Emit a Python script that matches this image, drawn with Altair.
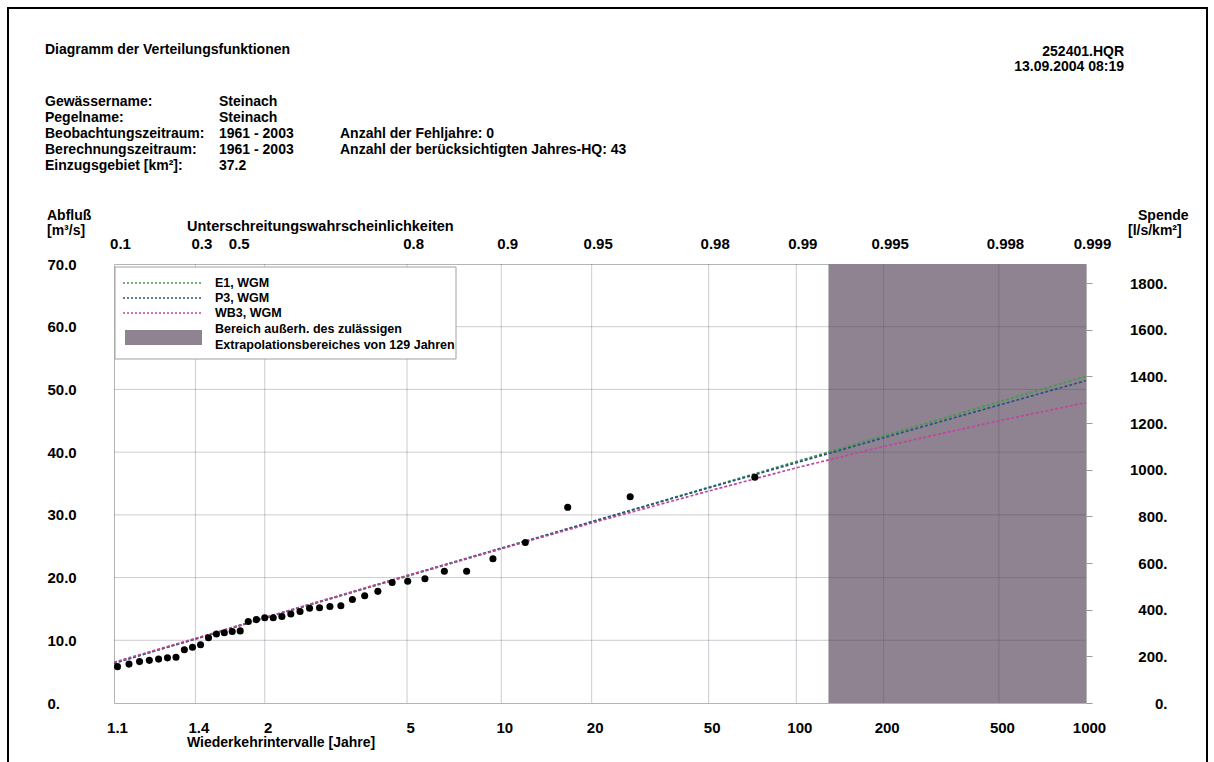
import math
import json
import altair as alt
import pandas as pd

# ---------------- data ----------------
AREA_KM2 = 37.2          # Einzugsgebiet
Q_MAX = 70.0
EXTRAP_YEARS = 129

prob_ticks = [0.1, 0.3, 0.5, 0.8, 0.9, 0.95, 0.98, 0.99, 0.995, 0.998, 0.999]
prob_labels = ["0.1", "0.3", "0.5", "0.8", "0.9", "0.95", "0.98", "0.99", "0.995", "0.998", "0.999"]
return_labels = ["1.1", "1.4", "2", "5", "10", "20", "50", "100", "200", "500", "1000"]

q_ticks = [0, 10, 20, 30, 40, 50, 60, 70]
q_labels = ["0.", "10.0", "20.0", "30.0", "40.0", "50.0", "60.0", "70.0"]
spende_ticks = [0, 200, 400, 600, 800, 1000, 1200, 1400, 1600, 1800]
spende_labels = ["0.", "200.", "400.", "600.", "800.", "1000.", "1200.", "1400.", "1600.", "1800."]

# observed annual maxima (visible part), non-exceedance probability and discharge
obs_p = [0.10648, 0.12963, 0.15278, 0.17593, 0.19907, 0.22222, 0.24537, 0.26852,
         0.29167, 0.31481, 0.33796, 0.36111, 0.38426, 0.40741, 0.43056, 0.45370,
         0.47685, 0.50000, 0.52315, 0.54630, 0.56944, 0.59259, 0.61574, 0.63889,
         0.66204, 0.68519, 0.70833, 0.73148, 0.75463, 0.77778, 0.80093, 0.82407,
         0.84722, 0.87037, 0.89352, 0.91667, 0.93981, 0.96296, 0.98611]
obs_q = [5.8, 6.2, 6.6, 6.8, 7.0, 7.2, 7.3, 8.5,
         8.9, 9.3, 10.4, 11.0, 11.2, 11.4, 11.5, 13.0,
         13.3, 13.6, 13.6, 13.8, 14.2, 14.6, 15.1, 15.2,
         15.4, 15.5, 16.5, 17.1, 17.8, 19.2, 19.4, 19.8,
         21.0, 21.0, 23.0, 25.6, 31.2, 32.9, 36.0]

# fitted distribution curves
curve_p = [0.1, 0.2, 0.3, 0.5, 0.8, 0.9, 0.95, 0.98, 0.99, 0.995, 0.998, 0.999]
e1_q = [6.4, 8.5, 10.2, 13.5, 20.2, 24.6, 28.9, 34.4, 38.5, 42.6, 48.0, 52.1]
p3_q = [6.3, 8.5, 10.2, 13.6, 20.3, 24.7, 28.9, 34.3, 38.3, 42.3, 47.5, 51.4]
wb3_q = [6.5, 8.6, 10.3, 13.6, 20.3, 24.6, 28.7, 33.8, 37.5, 40.9, 45.0, 47.9]

series_names = ["E1, WGM", "P3, WGM", "WB3, WGM"]
series_colors = ["#3f9d45", "#27547e", "#c2449b"]
SHADE = "#8f8392"

# ---------------- layout ----------------
W, H = 972, 439
OX, OY = 114, 264
FONT = "Liberation Sans"
GUMBEL = "-log(-log(datum.p))"


def gumbel(p):
    return -math.log(-math.log(p))


tick_x = [gumbel(p) for p in prob_ticks]
x_dom = [tick_x[0], tick_x[-1]]


def lab_expr(keys, labels):
    k = [round(v * 1000) for v in keys]
    return f"{json.dumps(labels)}[indexof({json.dumps(k)}, round(datum.value*1000))]"


x_scale = alt.Scale(domain=x_dom, nice=False, zero=False)
y_scale = alt.Scale(domain=[0, Q_MAX], nice=False, zero=True)

X = alt.X("x:Q", scale=x_scale, title=None,
          axis=alt.Axis(orient="bottom", values=tick_x, labelExpr=lab_expr(tick_x, return_labels),
                        grid=False, ticks=False, domain=False, labelFont=FONT, labelFontSize=15,
                        labelFontWeight="bold", labelColor="black", labelPadding=17,
                        labelAlign="center", labelOffset=3, labelFlush=False, labelOverlap=False))
Y = alt.Y("q:Q", scale=y_scale, title=None,
          axis=alt.Axis(orient="left", values=q_ticks, labelExpr=lab_expr(q_ticks, q_labels),
                        grid=False, ticks=False, domain=False, labelFont=FONT, labelFontSize=15,
                        labelFontWeight="bold", labelColor="black", labelPadding=67,
                        labelAlign="left", labelBaseline="middle", labelFlush=False,
                        labelOverlap=False))

one = alt.Data(values=[{}])


def txt(s, x, y, align="left", size=14):
    return alt.Chart(one).mark_text(
        text=s, align=align, baseline="middle", font=FONT, fontSize=size,
        fontWeight="bold", color="black"
    ).encode(x=alt.value(x - OX), y=alt.value(y - OY))


# shaded extrapolation region
shade = alt.Chart(pd.DataFrame({"T": [EXTRAP_YEARS], "p_end": [prob_ticks[-1]]})).transform_calculate(
    x="-log(-log(1-1/datum.T))", x2="-log(-log(datum.p_end))"
).mark_rect(color=SHADE).encode(x=X, x2="x2:Q", y=alt.value(0), y2=alt.value(H))

grid_col = "#4e4458"
vgrid = alt.Chart(pd.DataFrame({"p": prob_ticks[1:-1]})).transform_calculate(x=GUMBEL).mark_rule(
    color=grid_col, opacity=0.28, strokeWidth=1).encode(x=X, y=alt.value(0), y2=alt.value(H))
hgrid = alt.Chart(pd.DataFrame({"q": q_ticks[1:-1]})).mark_rule(
    color=grid_col, opacity=0.28, strokeWidth=1).encode(y=Y, x=alt.value(0), x2=alt.value(W))

lines_df = pd.DataFrame({
    "p": curve_p * 3,
    "q": e1_q + p3_q + wb3_q,
    "series": [series_names[0]] * len(curve_p) + [series_names[1]] * len(curve_p) + [series_names[2]] * len(curve_p),
})
lines = alt.Chart(lines_df).transform_calculate(x=GUMBEL).mark_line(
    strokeDash=[3, 2], strokeWidth=1.7, clip=True
).encode(x=X, y=Y, color=alt.Color("series:N", scale=alt.Scale(domain=series_names, range=series_colors),
                                    legend=None))

obs_df = pd.DataFrame({"p": obs_p, "q": obs_q})
points = alt.Chart(obs_df).transform_calculate(x=GUMBEL).mark_circle(
    size=50, color="black", opacity=1, clip=True).encode(x=X, y=Y)

# legend box (drawn)
lg = []
lg.append(alt.Chart(one).mark_rect(fill="white", stroke="#a0a0a0", strokeWidth=1).encode(
    x=alt.value(1), x2=alt.value(342), y=alt.value(3), y2=alt.value(95)))
for i, (nm, col) in enumerate(zip(series_names, series_colors)):
    yy = [19, 34, 49][i]
    lg.append(alt.Chart(one).mark_rule(color=col, strokeDash=[2, 2], strokeWidth=1.4).encode(
        x=alt.value(9), x2=alt.value(88), y=alt.value(yy)))
    lg.append(txt(nm, OX + 101, OY + yy, size=12.5))
lg.append(alt.Chart(one).mark_rect(fill=SHADE).encode(
    x=alt.value(11), x2=alt.value(88), y=alt.value(66), y2=alt.value(81)))
lg.append(txt("Bereich außerh. des zulässigen", OX + 101, OY + 65, size=12.5))
lg.append(txt(f"Extrapolationsbereiches von {EXTRAP_YEARS} Jahren", OX + 101, OY + 81, size=12.5))

# page frame
frame = alt.Chart(one).mark_rect(fillOpacity=0, stroke="black", strokeWidth=2).encode(
    x=alt.value(8 - OX), x2=alt.value(1207 - OX), y=alt.value(8 - OY), y2=alt.value(790 - OY))

texts = [
    txt("Diagramm der Verteilungsfunktionen", 45, 50),
    txt("252401.HQR", 1124, 52, align="right"),
    txt("13.09.2004 08:19", 1124, 67, align="right"),
    txt("Gewässername:", 45, 102), txt("Steinach", 219, 102),
    txt("Pegelname:", 45, 118), txt("Steinach", 219, 118),
    txt("Beobachtungszeitraum:", 45, 134), txt("1961 - 2003", 219, 134),
    txt("Anzahl der Fehljahre: 0", 340, 134),
    txt("Berechnungszeitraum:", 45, 150), txt("1961 - 2003", 219, 150),
    txt("Anzahl der berücksichtigten Jahres-HQ: 43", 340, 150),
    txt("Einzugsgebiet [km²]:", 45, 166), txt(f"{AREA_KM2}", 219, 166),
    txt("Abfluß", 47, 216), txt("[m³/s]", 47, 231),
    txt("Unterschreitungswahrscheinlichkeiten", 187, 227, size=14.5),
    txt("Spende", 1138, 216), txt("[l/s/km²]", 1128, 231),
    txt("Wiederkehrintervalle [Jahre]", 187, 743),
]

main = alt.layer(frame, shade, vgrid, hgrid, lines, points, *lg, *texts)

# top probability axis
half_key = round(gumbel(0.5) * 1000)
top = alt.Chart(obs_df).transform_calculate(x=GUMBEL).mark_point(opacity=0).encode(
    x=alt.X("x:Q", scale=x_scale, title=None,
            axis=alt.Axis(orient="top", values=tick_x, labelExpr=lab_expr(tick_x, prob_labels),
                          grid=False, ticks=False, domain=False, labelFont=FONT, labelFontSize=15,
                          labelFontWeight="bold", labelColor="black", labelPadding=13,
                          labelAlign="center",
                          labelOffset={"condition": {"test": f"round(datum.value*1000) == {half_key}",
                                                     "value": -26}, "value": 6},
                          labelFlush=False, labelOverlap=False)),
    y=alt.Y("q:Q", scale=y_scale, axis=None))

# right Spende axis
right = alt.Chart(obs_df).transform_calculate(
    x=GUMBEL, spende=f"datum.q*1000/{AREA_KM2}"
).mark_point(opacity=0).encode(
    x=alt.X("x:Q", scale=x_scale, axis=None),
    y=alt.Y("spende:Q", scale=alt.Scale(domain=[0, Q_MAX * 1000 / AREA_KM2], nice=False, zero=True),
            title=None,
            axis=alt.Axis(orient="right", values=spende_ticks, labelExpr=lab_expr(spende_ticks, spende_labels),
                          grid=False, ticks=True, tickSize=6, tickColor="#9a9a9a", domain=False,
                          labelFont=FONT, labelFontSize=15, labelFontWeight="bold", labelColor="black",
                          labelPadding=75, labelAlign="right", labelBaseline="middle",
                          labelFlush=False, labelOverlap=False)))

chart = alt.layer(main, top, right).resolve_scale(x="independent", y="independent").properties(
    width=W, height=H, autosize="none",
    padding={"left": OX, "top": OY, "right": 1214 - OX - W, "bottom": 762 - OY - H},
    background="white",
).configure_view(stroke="#b4b4b4", strokeWidth=1)

chart.save("out.html", embed_options={"renderer": "svg", "actions": False})
